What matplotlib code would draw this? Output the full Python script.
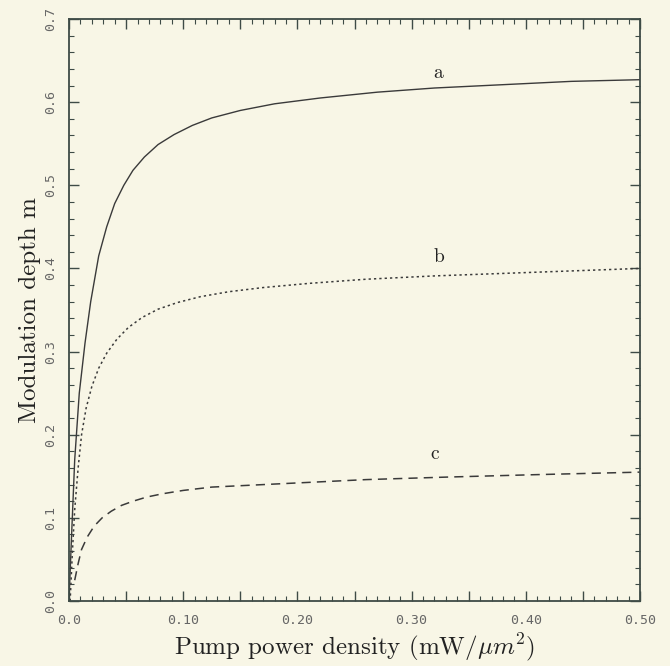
import matplotlib
matplotlib.use("Agg")
import matplotlib.pyplot as plt
from matplotlib.ticker import MultipleLocator

# curve a (solid)
a_x = [0, 0.002, 0.005, 0.009, 0.014, 0.019, 0.026, 0.033, 0.040, 0.048, 0.056, 0.066,
       0.078, 0.092, 0.108, 0.125, 0.150, 0.180, 0.220, 0.270, 0.320, 0.380, 0.440, 0.500]
a_y = [0, 0.07, 0.17, 0.25, 0.31, 0.36, 0.415, 0.45, 0.478, 0.50, 0.518, 0.534,
       0.549, 0.561, 0.572, 0.581, 0.590, 0.598, 0.605, 0.612, 0.617, 0.621, 0.625, 0.627]
# curve b (dotted)
b_x = [0.001, 0.003, 0.005, 0.008, 0.011, 0.015, 0.020, 0.026, 0.033, 0.042, 0.052, 0.064,
       0.078, 0.095, 0.115, 0.140, 0.170, 0.210, 0.260, 0.320, 0.380, 0.440, 0.500]
b_y = [0, 0.06, 0.11, 0.16, 0.20, 0.232, 0.258, 0.28, 0.298, 0.315, 0.329, 0.341,
       0.351, 0.359, 0.366, 0.372, 0.377, 0.382, 0.387, 0.391, 0.394, 0.397, 0.400]
# curve c (dashed)
c_x = [0.005, 0.008, 0.011, 0.016, 0.022, 0.029, 0.037, 0.046, 0.056, 0.068, 0.082,
       0.100, 0.125, 0.155, 0.200, 0.260, 0.330, 0.410, 0.500]
c_y = [0.025, 0.045, 0.062, 0.077, 0.090, 0.100, 0.108, 0.115, 0.120, 0.125, 0.129,
       0.133, 0.137, 0.139, 0.142, 0.146, 0.149, 0.152, 0.155]

curve_names = ["a", "b", "c"]
name_x = [0.323, 0.324, 0.320]
name_y = [0.635, 0.414, 0.177]

xtick_vals = [0.0, 0.1, 0.2, 0.3, 0.4, 0.5]
xtick_labels = ["0.0", "0.10", "0.20", "0.30", "0.40", "0.50"]
ytick_vals = [0.0, 0.1, 0.2, 0.3, 0.4, 0.5, 0.6, 0.7]
ytick_labels = ["0.0", "0.1", "0.2", "0.3", "0.4", "0.5", "0.6", "0.7"]

paper = "#f8f6e6"
ink = "#3a3a3a"
frame = "#3e4b46"
light = "#666666"

plt.rcParams["mathtext.fontset"] = "cm"

fig = plt.figure(figsize=(6.7, 6.66), dpi=100, facecolor=paper)
ax = fig.add_axes([69 / 670, 1 - 601 / 666, 571 / 670, 582 / 666], facecolor=paper)

ax.plot(a_x, a_y, color=ink, lw=1.0, ls="-")
ax.plot(b_x, b_y, color=ink, lw=1.1, ls=(0, (1.5, 2.0)))
ax.plot(c_x, c_y, color=ink, lw=1.1, ls=(0, (6, 4)))

for nm, tx, ty in zip(curve_names, name_x, name_y):
    ax.text(tx, ty, nm, family="cmr10", fontsize=14, color="#222222",
            ha="center", va="center")

ax.set_xlim(0, 0.5)
ax.set_ylim(0, 0.7)

ax.xaxis.set_major_locator(MultipleLocator(0.05))
ax.xaxis.set_minor_locator(MultipleLocator(0.01))
ax.yaxis.set_major_locator(MultipleLocator(0.1))
ax.yaxis.set_minor_locator(MultipleLocator(0.02))
ax.tick_params(which="both", direction="in", top=True, right=True, color=frame)
ax.tick_params(which="major", length=7, width=1.0)
ax.tick_params(which="minor", length=3.5, width=0.8)
ax.set_xticklabels([])
ax.set_yticklabels([])

for v, lab in zip(xtick_vals, xtick_labels):
    ax.text(v, -0.024, lab, family="DejaVu Sans Mono", fontsize=9.5, color=light,
            ha="center", va="center")
for v, lab in zip(ytick_vals, ytick_labels):
    ax.text(-0.016, v, lab, family="DejaVu Sans Mono", fontsize=9.5, color=light,
            ha="center", va="center", rotation=90)

for s in ax.spines.values():
    s.set_color(frame)
    s.set_linewidth(1.3)

ax.set_xlabel(r"Pump power density (mW/$\mu m^2$)", family="cmr10", fontsize=18,
              color="#222222", va="center")
ax.set_ylabel("Modulation depth m", family="cmr10", fontsize=18, color="#222222",
              va="center")
ax.xaxis.set_label_coords(0.5, -0.080)
ax.yaxis.set_label_coords(-0.068, 0.5)

fig.savefig("out.png", dpi=100, facecolor=paper)
